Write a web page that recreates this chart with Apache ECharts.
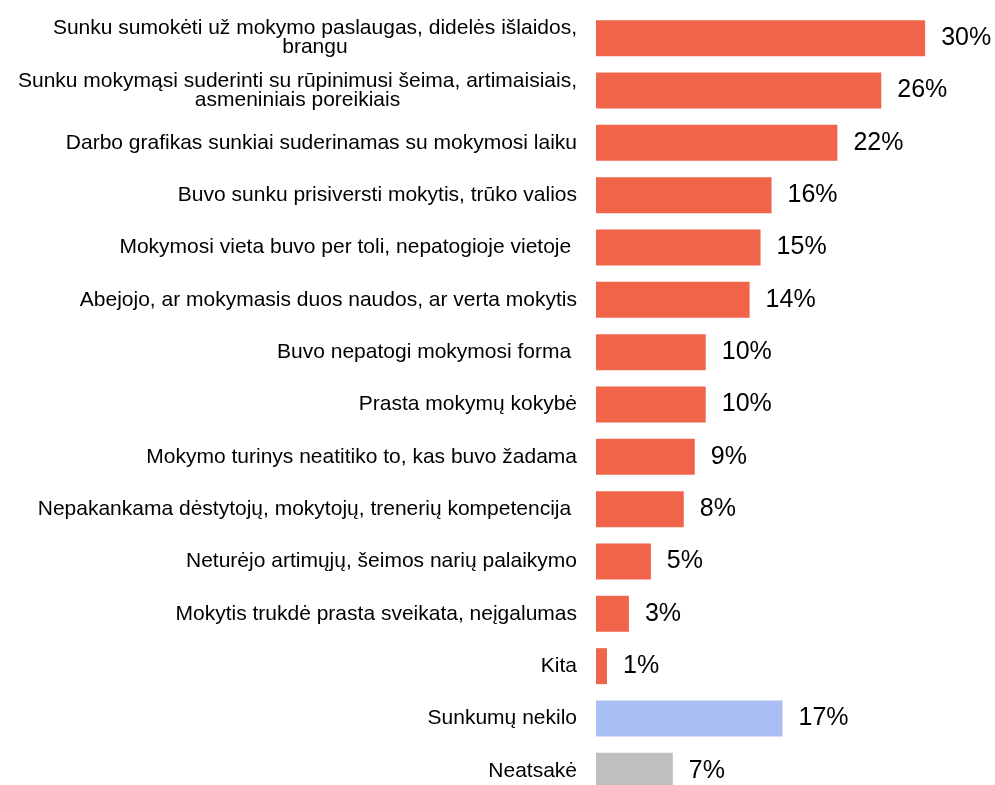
<!DOCTYPE html>
<html>
<head>
<meta charset="utf-8">
<script src="https://cdn.jsdelivr.net/npm/echarts@6/dist/echarts.min.js"></script>
<style>
  html, body { margin: 0; padding: 0; background: #fff; }
  #chart { width: 995px; height: 785px; }
</style>
</head>
<body>
<div id="chart"></div>
<script>
// kategorijos (iš viršaus į apačią)
const categories = [
  'Sunku sumokėti už mokymo paslaugas, didelės išlaidos,\nbrangu',
  'Sunku mokymąsi suderinti su rūpinimusi šeima, artimaisiais,\nasmeniniais poreikiais',
  'Darbo grafikas sunkiai suderinamas su mokymosi laiku',
  'Buvo sunku prisiversti mokytis, trūko valios',
  'Mokymosi vieta buvo per toli, nepatogioje vietoje ',
  'Abejojo, ar mokymasis duos naudos, ar verta mokytis',
  'Buvo nepatogi mokymosi forma ',
  'Prasta mokymų kokybė',
  'Mokymo turinys neatitiko to, kas buvo žadama',
  'Nepakankama dėstytojų, mokytojų, trenerių kompetencija ',
  'Neturėjo artimųjų, šeimos narių palaikymo',
  'Mokytis trukdė prasta sveikata, neįgalumas',
  'Kita',
  'Sunkumų nekilo',
  'Neatsakė'
];
const values = [30, 26, 22, 16, 15, 14, 10, 10, 9, 8, 5, 3, 1, 17, 7];
// atsakymo tipas: sunkumas / nekilo / neatsakė
const kinds = ['d', 'd', 'd', 'd', 'd', 'd', 'd', 'd', 'd', 'd', 'd', 'd', 'd', 'none', 'na'];

const kindColor = { d: '#F0654A', none: '#A9BEF5', na: '#BFBFBF' };
const font = 'Liberation Sans, Arial, sans-serif';

const chart = echarts.init(document.getElementById('chart'));

const option = {
  backgroundColor: '#fff',
  animation: false,
  grid: {
    left: 596, width: 395, top: 12, height: 785,
    containLabel: false,
    outerBoundsMode: 'none'
  },
  xAxis: {
    type: 'value',
    min: 0,
    max: 36,
    show: false
  },
  yAxis: {
    type: 'category',
    inverse: true,
    data: categories,
    axisLine: { show: false },
    axisTick: { show: false },
    splitLine: { show: false },
    axisLabel: {
      margin: 19,
      align: 'right',
      color: '#000',
      fontFamily: font,
      fontSize: 21,
      formatter: function (v) {
        return v.split('\n').map(s => '{c|' + s + '}').join('\n');
      },
      rich: {
        c: {
          align: 'center',
          fontFamily: font,
          fontSize: 21,
          lineHeight: 19,
          color: '#000'
        }
      }
    }
  },
  series: [{
    type: 'bar',
    barWidth: 36,
    data: values.map((v, i) => ({
      value: v,
      itemStyle: { color: kindColor[kinds[i]] }
    })),
    label: {
      show: true,
      position: 'right',
      distance: 16,
      color: '#000',
      fontFamily: font,
      fontSize: 25,
      formatter: '{c}%'
    }
  }]
};

chart.setOption(option);
</script>
</body>
</html>
